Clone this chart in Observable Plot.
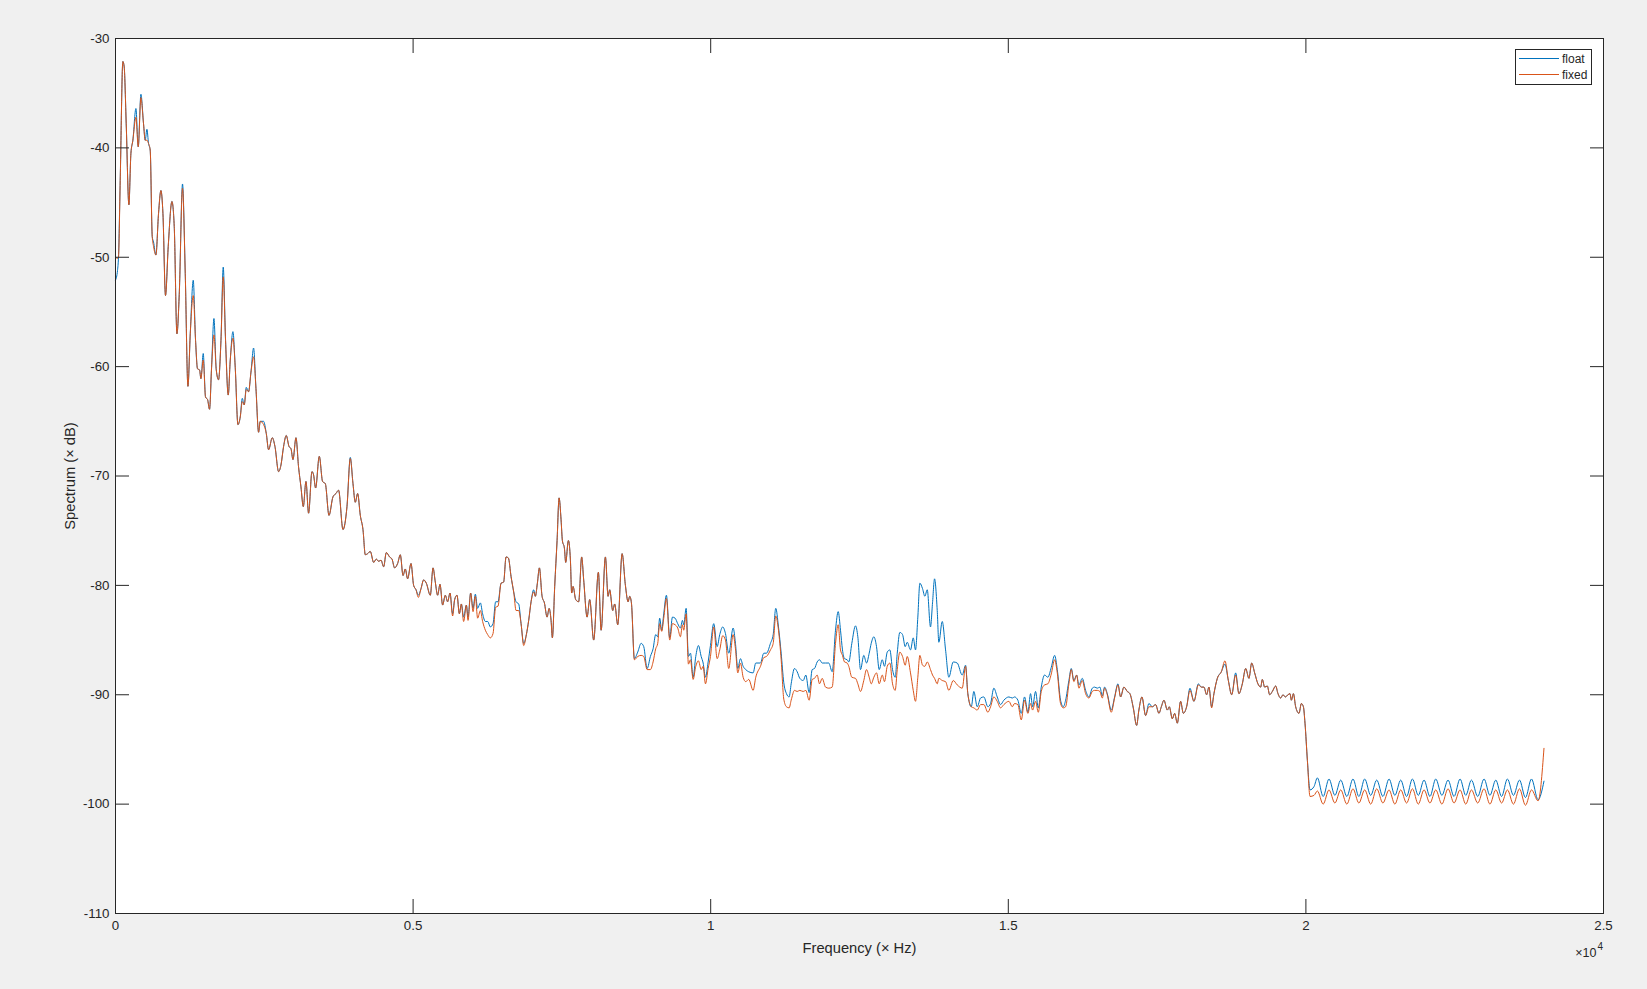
<!DOCTYPE html>
<html>
<head>
<meta charset="utf-8">
<script src="https://cdn.jsdelivr.net/npm/d3@7"></script>
<script src="https://cdn.jsdelivr.net/npm/@observablehq/plot@0.6"></script>
<style>
  html, body { margin: 0; padding: 0; background: #f0f0f0; overflow: hidden; }
  #wrap { position: relative; width: 1647px; height: 989px; }
  #legend { position: absolute; left: 1515px; top: 49px; }
</style>
</head>
<body>
<div id="wrap"></div>
<script>
// ---- Data ----
const freqHz = [
  0, 34, 50, 79, 124, 146, 180, 225, 259, 292, 343, 382, 427, 471, 499, 528, 555, 583, 617, 639,
  679, 723, 763, 797, 840, 886, 948, 987, 1032, 1071, 1126, 1172, 1217, 1256, 1306, 1345, 1378, 1412, 1435, 1474,
  1513, 1546, 1580, 1614, 1654, 1693, 1731, 1772, 1810, 1849, 1894, 1928, 1973, 2012, 2057, 2096, 2130, 2163, 2197, 2236,
  2276, 2320, 2360, 2404, 2432, 2488, 2533, 2572, 2634, 2679, 2740, 2780, 2824, 2869, 2915, 2948, 2982, 3032, 3076, 3116,
  3155, 3200, 3244, 3301, 3328, 3362, 3424, 3479, 3525, 3587, 3654, 3704, 3748, 3822, 3889, 3945, 3990, 4029, 4068, 4113,
  4158, 4197, 4236, 4281, 4337, 4382, 4421, 4461, 4505, 4550, 4605, 4646, 4689, 4740, 4785, 4831, 4869, 4908, 4965, 5009,
  5049, 5088, 5133, 5177, 5222, 5289, 5335, 5373, 5412, 5452, 5496, 5541, 5580, 5620, 5664, 5698, 5738, 5777, 5811, 5849,
  5895, 5923, 5967, 6007, 6046, 6084, 6130, 6168, 6214, 6253, 6298, 6343, 6387, 6427, 6478, 6521, 6562, 6601, 6646, 6690,
  6730, 6774, 6814, 6858, 6903, 6942, 6982, 7026, 7054, 7088, 7122, 7167, 7206, 7251, 7285, 7318, 7340, 7379, 7419, 7453,
  7486, 7508, 7542, 7564, 7609, 7643, 7664, 7688, 7732, 7782, 7832, 7866, 7923, 7967, 8034, 8113, 8159, 8231, 8276, 8303,
  8354, 8387, 8438, 8512, 8567, 8612, 8639, 8668, 8718, 8774, 8831, 8875, 8932, 8987, 9032, 9076, 9110, 9143, 9177, 9211,
  9256, 9312, 9357, 9402, 9446, 9491, 9525, 9547, 9587, 9626, 9660, 9705, 9749, 9794, 9840, 9873, 9912, 9957, 9996, 10051,
  10108, 10152, 10202, 10248, 10303, 10377, 10416, 10455, 10500, 10545, 10589, 10639, 10713, 10757, 10836, 10892, 10937, 11004, 11050, 11093,
  11139, 11184, 11228, 11273, 11318, 11352, 11408, 11453, 11497, 11554, 11598, 11654, 11705, 11744, 11789, 11828, 11873, 11929, 11984, 12041,
  12097, 12142, 12181, 12214, 12248, 12293, 12320, 12371, 12433, 12472, 12517, 12572, 12618, 12663, 12697, 12741, 12786, 12831, 12882, 12920,
  12966, 13010, 13055, 13100, 13134, 13178, 13223, 13268, 13302, 13357, 13403, 13441, 13480, 13514, 13559, 13598, 13638, 13693, 13727, 13761,
  13806, 13833, 13890, 13946, 14001, 14075, 14142, 14226, 14282, 14320, 14378, 14421, 14478, 14534, 14589, 14657, 14702, 14757, 14814, 14870,
  14925, 15010, 15067, 15105, 15161, 15218, 15273, 15329, 15374, 15408, 15458, 15504, 15554, 15609, 15665, 15722, 15778, 15823, 15878, 15924,
  15963, 16018, 16058, 16102, 16148, 16186, 16243, 16299, 16354, 16411, 16450, 16495, 16539, 16579, 16618, 16663, 16730, 16786, 16842, 16887,
  16942, 16999, 17043, 17100, 17156, 17194, 17245, 17307, 17362, 17419, 17475, 17531, 17571, 17615, 17672, 17705, 17756, 17794, 17840, 17895,
  17941, 17996, 18052, 18119, 18193, 18243, 18287, 18332, 18371, 18416, 18455, 18512, 18579, 18640, 18697, 18753, 18820, 18875, 18932, 18988,
  19043, 19089, 19139, 19194, 19240, 19268, 19307, 19352, 19391, 19436, 19492, 19531, 19576, 19615, 19655, 19699, 19733, 19756, 19790, 19828,
  19884, 19924, 19958, 19985, 20025, 20069, 20136, 20193, 20290, 20388, 20487, 20585, 20688, 20791, 20890, 20988, 21089, 21190, 21294, 21397,
  21495, 21593, 21692, 21790, 21888, 21985, 22084, 22182, 22285, 22388, 22489, 22590, 22686, 22781, 22887, 22993, 23092, 23190, 23288, 23386,
  23487, 23588, 23689, 23790, 23901, 24000
];

const floatDb = [
  -52.1, -51.2, -50.0, -43.0, -32.1, -32.6, -37.8, -45.2, -40.5, -39.3, -36.4, -39.9, -35.1, -37.8, -39.3, -38.3, -39.6, -40.2, -48.1, -48.6,
  -49.8, -46.0, -43.9, -46.0, -53.5, -49.0, -44.9, -47.2, -57.0, -53.4, -43.3, -51.5, -61.8, -57.0, -52.1, -57.6, -60.2, -60.3, -61.1, -58.8,
  -62.8, -63.0, -63.9, -60.1, -55.6, -60.3, -61.2, -57.6, -50.9, -57.6, -62.6, -59.4, -56.8, -60.1, -65.3, -64.6, -62.9, -63.5, -61.9, -62.3,
  -60.5, -58.3, -62.0, -66.0, -65.0, -65.0, -66.1, -67.6, -66.5, -67.3, -69.6, -69.0, -67.3, -66.3, -67.3, -67.5, -68.5, -66.5, -69.2, -71.0,
  -72.8, -70.5, -73.4, -69.6, -69.9, -71.1, -68.2, -70.5, -70.7, -73.6, -71.9, -71.6, -71.3, -74.9, -72.8, -68.3, -70.7, -72.4, -71.6, -73.6,
  -74.9, -77.2, -77.1, -76.9, -77.9, -77.6, -77.8, -77.7, -78.3, -77.0, -77.4, -77.6, -78.4, -78.0, -77.2, -79.1, -78.5, -79.4, -78.0, -80.0,
  -80.4, -80.9, -80.3, -79.5, -79.8, -80.9, -78.4, -79.7, -80.9, -79.9, -81.8, -80.9, -81.5, -80.7, -82.6, -81.3, -80.9, -82.6, -81.7, -82.9,
  -81.8, -82.9, -80.7, -82.1, -80.8, -82.1, -81.6, -82.6, -83.3, -83.3, -83.8, -83.5, -81.5, -81.5, -79.8, -79.7, -77.4, -77.5, -79.2, -80.6,
  -81.5, -81.7, -83.5, -85.3, -84.5, -83.2, -81.5, -80.4, -81.0, -79.8, -78.4, -81.0, -81.6, -82.9, -82.1, -83.2, -84.8, -80.1, -75.9, -72.0,
  -74.0, -75.9, -76.6, -77.9, -75.9, -77.7, -80.7, -80.1, -81.3, -81.5, -77.4, -79.5, -82.9, -81.3, -85.0, -78.8, -84.1, -77.4, -81.0, -80.4,
  -82.3, -81.7, -83.6, -77.1, -80.0, -81.5, -81.0, -81.6, -86.7, -86.1, -85.3, -85.6, -87.6, -86.5, -85.8, -84.5, -84.7, -83.0, -84.1, -82.6,
  -80.9, -84.8, -82.9, -83.0, -83.5, -83.9, -83.2, -83.6, -82.1, -86.5, -86.2, -88.4, -86.5, -85.5, -86.5, -87.1, -88.4, -87.0, -85.5, -83.5,
  -85.6, -84.5, -83.8, -84.4, -86.2, -83.9, -85.3, -87.6, -86.7, -87.4, -87.7, -87.9, -88.0, -87.1, -87.1, -86.2, -86.2, -85.3, -84.5, -82.1,
  -83.8, -86.2, -88.9, -89.9, -90.2, -89.0, -87.6, -87.9, -88.5, -88.7, -88.2, -89.8, -87.7, -87.6, -87.0, -86.8, -87.1, -87.1, -87.1, -87.9,
  -84.1, -82.4, -84.1, -85.9, -86.7, -86.8, -87.0, -85.3, -83.7, -84.7, -87.7, -86.4, -87.1, -86.2, -85.3, -84.7, -85.6, -87.7, -86.8, -87.4,
  -86.1, -85.9, -87.7, -88.4, -86.2, -84.3, -84.5, -85.6, -85.2, -85.9, -84.8, -85.9, -82.9, -79.8, -80.3, -81.0, -80.4, -83.8, -81.6, -79.4,
  -82.3, -85.2, -83.3, -85.9, -88.4, -87.0, -87.1, -88.2, -87.3, -89.9, -91.1, -89.7, -91.1, -90.3, -90.2, -91.1, -90.8, -89.4, -90.2, -90.9,
  -90.5, -90.2, -90.3, -90.2, -90.5, -91.7, -90.2, -91.6, -89.9, -91.1, -89.7, -91.2, -89.3, -88.2, -88.4, -87.5, -86.4, -87.7, -90.5, -91.1,
  -90.5, -88.7, -87.6, -88.7, -88.2, -89.1, -88.5, -89.6, -90.2, -89.4, -89.3, -89.4, -89.3, -90.1, -89.3, -89.9, -91.4, -90.2, -89.0, -90.2,
  -89.3, -89.7, -89.9, -91.2, -92.8, -91.4, -90.2, -91.9, -90.8, -91.1, -90.9, -91.7, -91.1, -90.5, -91.4, -91.1, -92.2, -91.7, -92.6, -90.6,
  -91.7, -91.1, -89.4, -90.6, -89.0, -89.3, -89.3, -90.0, -89.3, -91.1, -89.9, -88.5, -87.9, -87.2, -88.7, -90.0, -88.0, -89.9, -89.0, -87.6,
  -88.5, -87.1, -88.0, -89.0, -89.3, -88.6, -89.3, -89.2, -90.0, -89.7, -89.2, -89.9, -90.3, -90.0, -90.2, -90.0, -89.9, -90.5, -89.9, -91.1,
  -91.7, -90.8, -91.1, -92.6, -96.0, -98.7, -98.4, -97.6, -99.3, -97.7, -99.2, -97.8, -99.3, -97.7, -99.3, -97.7, -99.2, -97.8, -99.3, -97.7,
  -99.2, -97.8, -99.3, -97.7, -99.2, -97.8, -99.3, -97.7, -99.2, -97.8, -99.3, -97.7, -99.2, -97.8, -99.3, -97.7, -99.2, -97.8, -99.3, -97.7,
  -99.2, -97.8, -99.4, -97.7, -99.6, -97.9
];

const fixedDb = [
  -50.0, -50.1, -50.0, -43.0, -32.1, -32.6, -37.8, -45.2, -40.5, -39.3, -37.2, -39.9, -35.4, -37.8, -39.3, -39.3, -39.6, -40.2, -48.1, -49.0,
  -49.8, -46.0, -43.9, -46.0, -53.5, -49.0, -44.9, -47.2, -57.0, -53.4, -43.7, -51.5, -61.8, -57.0, -53.5, -57.6, -60.2, -60.3, -61.1, -59.4,
  -62.8, -63.0, -63.9, -60.1, -57.1, -60.3, -61.2, -57.6, -51.8, -57.6, -62.6, -59.4, -57.4, -60.1, -65.3, -64.6, -63.2, -63.5, -62.1, -62.3,
  -60.5, -59.1, -62.0, -66.0, -65.0, -65.3, -66.1, -67.6, -66.5, -67.3, -69.6, -69.0, -67.3, -66.3, -67.3, -67.5, -68.5, -66.5, -69.2, -71.0,
  -72.8, -70.5, -73.4, -69.6, -69.9, -71.1, -68.2, -70.5, -70.7, -73.6, -71.9, -71.6, -71.3, -74.9, -72.8, -68.4, -70.7, -72.4, -71.6, -73.6,
  -74.9, -77.2, -77.1, -76.9, -77.9, -77.6, -77.8, -77.7, -78.3, -77.0, -77.4, -77.6, -78.4, -78.0, -77.2, -79.1, -78.5, -79.4, -78.0, -80.0,
  -80.4, -81.1, -80.3, -79.5, -79.8, -80.9, -78.4, -79.7, -80.9, -79.9, -81.8, -80.9, -81.5, -80.7, -82.8, -81.3, -80.9, -82.6, -81.7, -83.3,
  -81.8, -83.2, -80.7, -82.4, -81.0, -83.0, -82.3, -83.3, -84.1, -84.5, -84.8, -84.4, -82.0, -81.9, -79.8, -79.7, -77.4, -77.5, -79.2, -80.6,
  -82.3, -82.3, -83.5, -85.5, -84.5, -83.2, -81.5, -80.6, -81.0, -79.8, -78.4, -81.0, -81.6, -82.9, -82.1, -83.2, -84.8, -80.1, -75.9, -72.0,
  -74.0, -75.9, -76.6, -77.9, -75.9, -77.7, -80.7, -80.1, -81.3, -81.5, -77.4, -79.5, -82.9, -81.3, -85.0, -78.8, -84.1, -77.4, -81.0, -80.4,
  -82.3, -81.7, -83.6, -77.1, -80.0, -81.5, -81.0, -81.6, -86.8, -86.5, -86.4, -86.5, -87.7, -87.7, -87.0, -85.8, -85.3, -83.5, -84.2, -83.0,
  -81.2, -85.0, -83.5, -83.6, -83.9, -84.7, -83.6, -84.1, -82.6, -87.2, -86.8, -88.6, -87.4, -86.9, -87.7, -87.4, -89.0, -87.6, -86.5, -83.8,
  -86.7, -85.9, -84.6, -85.0, -87.6, -84.5, -85.8, -88.0, -87.1, -88.4, -88.8, -88.6, -89.6, -88.4, -87.4, -86.6, -86.5, -85.9, -85.3, -82.8,
  -84.1, -86.8, -90.4, -91.1, -91.2, -90.5, -89.6, -89.7, -89.6, -89.7, -89.6, -90.5, -88.6, -88.5, -88.2, -89.0, -88.5, -89.3, -89.4, -89.3,
  -85.3, -83.6, -85.9, -86.4, -87.0, -87.1, -87.4, -88.4, -88.5, -89.0, -89.7, -88.7, -87.7, -88.4, -89.0, -88.4, -88.0, -89.0, -88.2, -88.8,
  -87.4, -87.1, -89.0, -89.6, -87.7, -86.1, -86.5, -87.3, -86.5, -88.0, -89.6, -90.6, -88.4, -86.4, -87.3, -87.4, -87.0, -87.7, -88.2, -88.5,
  -89.0, -88.5, -88.7, -88.8, -89.6, -88.7, -89.1, -89.4, -87.4, -89.9, -91.1, -91.2, -91.4, -90.9, -90.9, -91.6, -91.1, -90.2, -90.6, -91.2,
  -90.9, -90.6, -91.1, -90.8, -90.9, -92.3, -90.5, -91.7, -90.8, -91.4, -90.6, -91.6, -89.7, -89.1, -89.0, -88.1, -86.8, -88.0, -90.8, -91.2,
  -91.1, -89.0, -87.7, -88.8, -88.2, -89.4, -88.7, -89.9, -90.3, -89.7, -89.6, -89.6, -89.7, -90.3, -89.4, -90.0, -91.6, -90.3, -89.1, -90.2,
  -89.3, -89.7, -89.9, -91.2, -92.8, -91.4, -90.2, -91.9, -91.1, -91.1, -90.9, -91.7, -91.1, -90.5, -91.4, -91.1, -92.2, -91.7, -92.6, -90.6,
  -91.7, -91.1, -89.6, -90.6, -89.1, -89.3, -89.3, -90.0, -89.3, -91.2, -89.9, -88.5, -87.9, -86.9, -88.7, -90.0, -88.2, -89.9, -89.0, -87.6,
  -88.5, -87.1, -88.0, -89.0, -89.3, -88.6, -89.3, -89.2, -90.0, -89.7, -89.2, -89.9, -90.3, -90.0, -90.2, -90.0, -89.9, -90.5, -89.9, -91.1,
  -91.7, -90.8, -91.1, -92.6, -96.0, -99.3, -99.2, -98.8, -100.0, -98.7, -99.9, -98.7, -100.0, -98.6, -99.9, -98.7, -100.0, -98.6, -99.9, -98.7,
  -100.0, -98.7, -99.9, -98.6, -100.0, -98.7, -99.9, -98.7, -100.0, -98.6, -99.9, -98.7, -100.0, -98.7, -99.9, -98.6, -100.0, -98.7, -99.9, -98.7,
  -100.0, -98.6, -100.1, -98.7, -99.7, -94.9
];

const seriesNames = ["float", "fixed"];
const seriesColors = ["#0072BD", "#D95319"];
const xTicks = [0, 5000, 10000, 15000, 20000, 25000];
const yTicks = [-110, -100, -90, -80, -70, -60, -50, -40, -30];

// ---- Build rows ----
const floatRows = freqHz.map((f, i) => ({f, v: floatDb[i]}));
const fixedRows = freqHz.map((f, i) => ({f, v: fixedDb[i]}));

const axisColor = "#262626";
const font = "'Liberation Sans', Arial, Helvetica, sans-serif";

const chart = Plot.plot({
  width: 1647,
  height: 989,
  marginLeft: 115,
  marginRight: 44,
  marginTop: 38,
  marginBottom: 76,
  style: {background: "transparent", fontFamily: font, fontSize: "13.3px", color: axisColor, overflow: "visible"},
  x: {domain: [0, 25000], label: null},
  y: {domain: [-110, -30], label: null},
  marks: [
    Plot.frame({fill: "white", stroke: null}),
    Plot.line(floatRows, {x: "f", y: "v", stroke: seriesColors[0], strokeWidth: 1, curve: "monotone-x"}),
    Plot.line(fixedRows, {x: "f", y: "v", stroke: seriesColors[1], strokeWidth: 1, curve: "monotone-x"}),
    Plot.frame({stroke: axisColor, strokeWidth: 1}),
    Plot.axisX({anchor: "bottom", ticks: xTicks, tickSize: -14, tickPadding: 21, tickFormat: d => d / 10000, label: null}),
    Plot.axisX({anchor: "top", ticks: xTicks, tickSize: -14, tickFormat: () => "", label: null}),
    Plot.axisY({anchor: "left", ticks: yTicks, tickSize: -14, tickPadding: 20, tickFormat: d => String(d), label: null}),
    Plot.axisY({anchor: "right", ticks: yTicks, tickSize: -14, tickFormat: () => "", label: null}),
    Plot.text(["Frequency (× Hz)"], {frameAnchor: "bottom", lineAnchor: "middle", textAnchor: "middle", dy: 35, fontSize: 14.7, fill: axisColor}),
    Plot.text(["Spectrum (× dB)"], {frameAnchor: "left", lineAnchor: "middle", textAnchor: "middle", dx: -45, rotate: -90, fontSize: 14.7, fill: axisColor}),
    Plot.text(["×10"], {frameAnchor: "bottom-right", lineAnchor: "middle", textAnchor: "end", dx: -7, dy: 39, fontSize: 12.5, fill: axisColor}),
    Plot.text(["4"], {frameAnchor: "bottom-right", lineAnchor: "middle", textAnchor: "end", dx: -0.5, dy: 33, fontSize: 10, fill: axisColor})
  ]
});

const wrap = document.getElementById("wrap");
wrap.appendChild(chart);

// ---- Legend (inside the axes, top-right) ----
const ns = "http://www.w3.org/2000/svg";
const leg = document.createElementNS(ns, "svg");
leg.setAttribute("id", "legend");
leg.setAttribute("width", "77");
leg.setAttribute("height", "36");
const box = document.createElementNS(ns, "rect");
box.setAttribute("x", "0.5"); box.setAttribute("y", "0.5");
box.setAttribute("width", "76"); box.setAttribute("height", "35");
box.setAttribute("fill", "white"); box.setAttribute("stroke", axisColor); box.setAttribute("stroke-width", "1");
leg.appendChild(box);
seriesNames.forEach((name, i) => {
  const yy = 9.5 + i * 16;
  const ln = document.createElementNS(ns, "line");
  ln.setAttribute("x1", "4"); ln.setAttribute("x2", "44");
  ln.setAttribute("y1", yy); ln.setAttribute("y2", yy);
  ln.setAttribute("stroke", seriesColors[i]); ln.setAttribute("stroke-width", "1");
  leg.appendChild(ln);
  const tx = document.createElementNS(ns, "text");
  tx.setAttribute("x", "47"); tx.setAttribute("y", yy + 4.2);
  tx.setAttribute("font-family", font); tx.setAttribute("font-size", "12");
  tx.setAttribute("fill", axisColor);
  tx.textContent = name;
  leg.appendChild(tx);
});
wrap.appendChild(leg);
</script>
</body>
</html>
